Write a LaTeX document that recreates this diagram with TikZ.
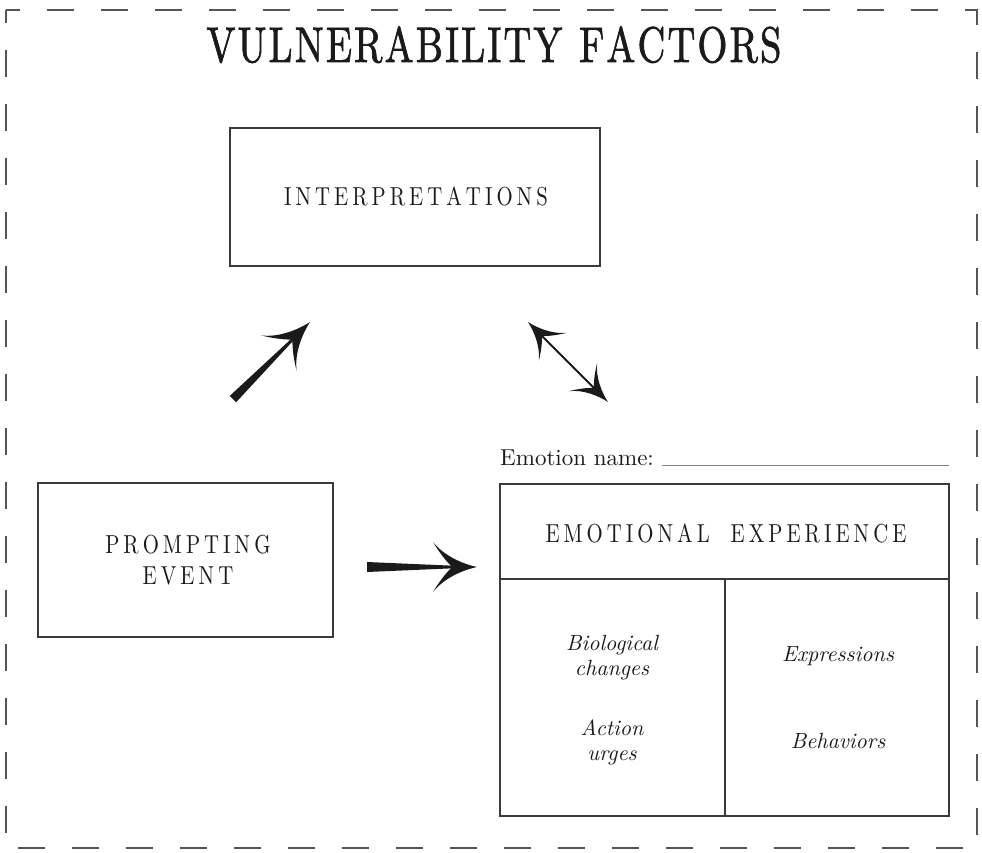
\documentclass[tikz,border=0pt]{standalone}
\usepackage{graphicx}
\usepackage{fontspec}
\newfontfamily\lmten[BoldFont=lmroman10-bold.otf, ItalicFont=lmroman10-italic.otf]{lmroman10-regular.otf}
\newfontfamily\lmtitle[FakeBold=1.6]{lmroman10-regular.otf}
\makeatletter
\newdimen\lskern
\def\ls#1{\ls@a#1\relax}
\def\ls@a#1#2{#1\ifx#2\relax\else\kern\lskern\expandafter\ls@a\expandafter#2\fi}
\makeatother
\newcommand\capstext[1]{\scalebox{0.8}[1]{\lmten\fontsize{26}{30}\selectfont\lskern=5pt #1}}
\definecolor{ink}{HTML}{1A1A1A}
\definecolor{boxline}{HTML}{3A3A3A}
\definecolor{dashline}{HTML}{555555}
\tikzset{
  box/.style={draw=boxline, line width=1.3pt, inner sep=0pt},
  lbl/.style={inner sep=0pt, text=ink, anchor=base},
  itl/.style={lbl, font=\lmten\fontsize{22}{26}\selectfont\itshape},
  calhead/.pic={
    \fill[ink] (0,0) .. controls (-14,3) and (-33,11) .. (-44,25)
      .. controls (-38,15) and (-31,6) .. (-26,1.2) -- (-26,-1.2)
      .. controls (-31,-6) and (-38,-15) .. (-44,-25)
      .. controls (-33,-11) and (-14,-3) .. (0,0) -- cycle;
  }
}
\begin{document}
\begin{tikzpicture}[x=1pt, y=-1pt]
\useasboundingbox (0,0) rectangle (982,853);
% dashed frame
\draw[dashline, line width=1.5pt, dash pattern=on 27pt off 27pt, dash phase=14pt] (6,10) rectangle (977,848);

% title
\node[lbl] (title) at (494,62) {\scalebox{0.77}[1]{\lmtitle\fontsize{50}{56}\selectfont\lskern=2.8pt\ls{VULNERABILITY}\hspace{22pt}\ls{FACTORS}}};

% boxes
\node[box, minimum width=370pt, minimum height=138pt] (interp) at (415,197) {};
\node[lbl] (interpT) at (416,205) {\capstext{\ls{INTERPRETATIONS}}};

\node[box, minimum width=295pt, minimum height=154pt] (prompt) at (185.5,560) {};
\node[lbl] (promptA) at (188,553) {\capstext{\ls{PROMPTING}}};
\node[lbl] (promptB) at (188,584) {\capstext{\ls{EVENT}}};

\node[box, minimum width=449pt, minimum height=332pt] (emo) at (724.5,650) {};
\coordinate (divL) at (500,579);
\coordinate (divR) at (949,579);
\coordinate (divT) at (725,579);
\coordinate (divB) at (725,816);
\draw[boxline, line width=1.3pt] (divL) -- (divR);
\draw[boxline, line width=1.3pt] (divT) -- (divB);
\node[lbl] (emoT) at (726,542) {\capstext{\ls{EMOTIONAL}\hspace{26pt}\ls{EXPERIENCE}}};

\node[itl] (bio1) at (612,650) {Biological};
\node[itl] (bio2) at (612,675) {changes};
\node[itl] (act1) at (612,735) {Action};
\node[itl] (act2) at (612,760) {urges};
\node[itl] (expr) at (838,661) {Expressions};
\node[itl] (beh) at (838,748) {Behaviors};

% emotion name
\node[lbl, anchor=base west, font=\lmten\fontsize{23}{27}\selectfont] (ename) at (500,465) {Emotion name:};
\coordinate (lineA) at (662,465);
\coordinate (lineB) at (949,465);
\draw[gray, line width=1pt] (lineA) -- (lineB);

% arrow 1: prompting -> interpretations
\coordinate (a1tip) at (310,322);
\begin{scope}[shift={(a1tip)}, rotate=45]
  \fill[ink] (-109,-4.5) -- (-24,-1.3) -- (-24,1.3) -- (-109,4.5) -- cycle;
  \pic[transform shape] {calhead};
\end{scope}

% arrow 2: double
\coordinate (a2top) at (528,322);
\begin{scope}[shift={(a2top)}, rotate=-45]
  \draw[ink, line width=2pt] (18,0) -- (95,0);
  \pic[transform shape, scale=0.8, rotate=180] at (0,0) {calhead};
  \pic[transform shape, scale=0.8] at (113,0) {calhead};
\end{scope}

% arrow 3: prompting -> emotional experience
\coordinate (a3tip) at (477,567);
\begin{scope}[shift={(a3tip)}]
  \fill[ink] (-110,-5) -- (-24,-1.3) -- (-24,1.3) -- (-110,5) -- cycle;
  \pic[transform shape] {calhead};
\end{scope}
\end{tikzpicture}
\end{document}
